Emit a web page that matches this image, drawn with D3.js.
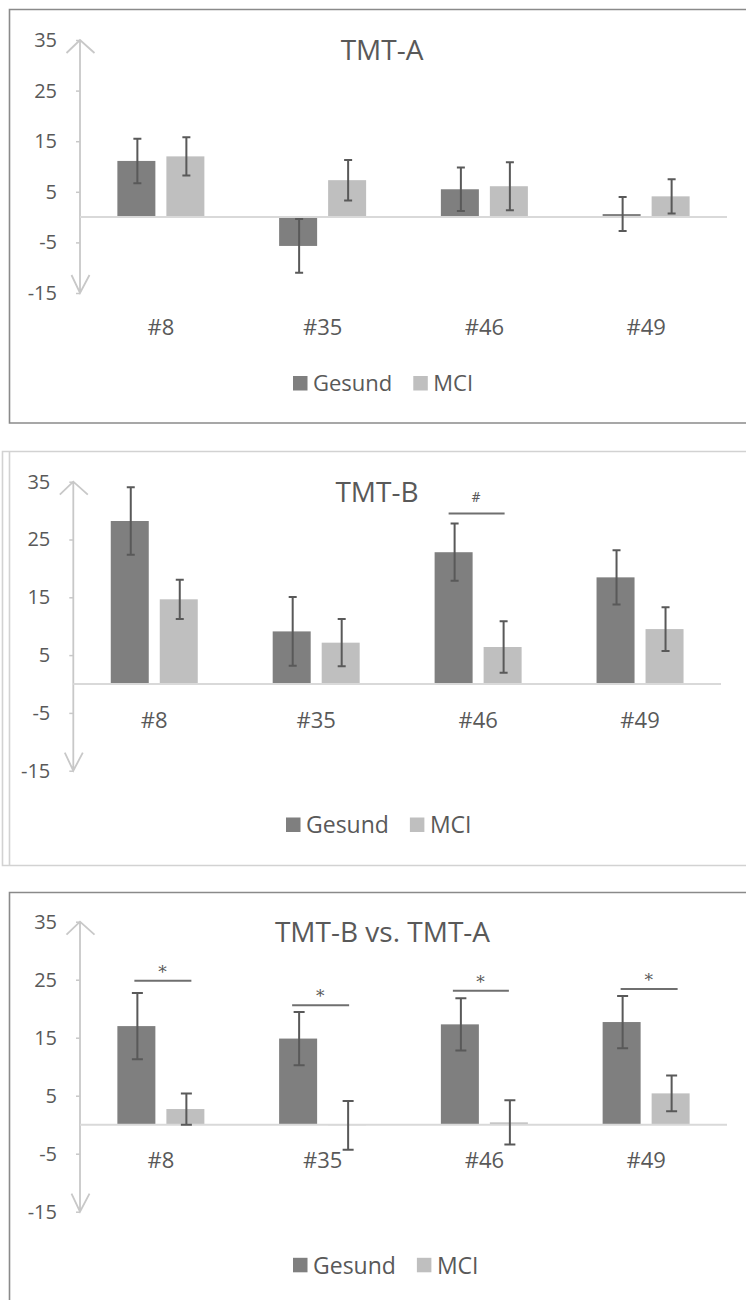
<!DOCTYPE html>
<html>
<head>
<meta charset="utf-8">
<script src="https://cdn.jsdelivr.net/npm/d3@7"></script>
<style>
  html, body { margin: 0; padding: 0; background: #fff; }
  svg { display: block; }
  text { font-family: "Open Sans", "Noto Sans", sans-serif; fill: #595959; }
</style>
</head>
<body>
<svg id="chart" width="746" height="1300"></svg>
<script>
// Categories, groups and axis ticks shared by the three panels
const categories = ["#8", "#35", "#46", "#49"];
const groups = ["Gesund", "MCI"];
const tickValues = [35, 25, 15, 5, -5, -15];

// TMT-A: group means and error ranges
const tmtAGesund = [11.1, -5.7, 5.5, 0.6];
const tmtAGesundErr = [4.4, 5.3, 4.3, 3.35];
const tmtAMci = [12.0, 7.3, 6.1, 4.1];
const tmtAMciErr = [3.8, 4.0, 4.75, 3.4];

// TMT-B
const tmtBGesund = [28.2, 9.1, 22.8, 18.45];
const tmtBGesundErr = [5.85, 5.95, 4.95, 4.7];
const tmtBMci = [14.65, 7.15, 6.4, 9.5];
const tmtBMciErr = [3.4, 4.1, 4.45, 3.8];

// TMT-B vs. TMT-A
const diffGesund = [17.0, 14.85, 17.3, 17.7];
const diffGesundErr = [5.7, 4.6, 4.5, 4.5];
const diffMci = [2.7, -0.1, 0.4, 5.4];
const diffMciErr = [2.7, 4.2, 3.8, 3.1];

// Significance brackets: category, bracket level, symbol
const tmtBSigCats = ["#46"];
const tmtBSigLevels = [29.5];
const tmtBSigSymbols = ["#"];
const diffSigCats = ["#8", "#35", "#46", "#49"];
const diffSigLevels = [24.8, 20.6, 23.1, 23.4];
const diffSigSymbols = ["*", "*", "*", "*"];

const colors = { Gesund: "#7f7f7f", MCI: "#bfbfbf" };
const svg = d3.select("#chart");

// Panel frames
svg.append("path")
  .attr("d", "M746,9.5 H9.5 V423 H746")
  .attr("fill", "none").attr("stroke", "#8a8a8a").attr("stroke-width", 1.6);
svg.append("path")
  .attr("d", "M746,451.5 H2.5 V865.5 H746 M9.5,451.5 V865.5")
  .attr("fill", "none").attr("stroke", "#d2d2d2").attr("stroke-width", 1.6);
svg.append("path")
  .attr("d", "M746,892.5 H9.5 V1300")
  .attr("fill", "none").attr("stroke", "#8a8a8a").attr("stroke-width", 1.6);

function drawPanel(cfg) {
  const g = svg.append("g");
  const y = d3.scaleLinear().domain([-15, 35]).range([cfg.yBottom, cfg.yTop]);
  const x0 = d3.scaleBand().domain(categories).range([cfg.left, cfg.right]).padding(0);
  const bw = x0.bandwidth();
  const groupW = 87;
  const x1 = d3.scaleBand().domain(groups)
    .range([(bw - groupW) / 2, (bw + groupW) / 2])
    .paddingInner(2 - groupW / 49).paddingOuter(0);

  // y axis ticks and labels
  const axis = g.append("g")
    .attr("transform", `translate(${cfg.left},0)`)
    .call(d3.axisLeft(y).tickValues(tickValues).tickSize(4).tickPadding(19).tickFormat(d => String(d)));
  axis.select(".domain").remove();
  axis.selectAll(".tick line").attr("stroke", "#c8c8c8").attr("stroke-width", 1.5);
  axis.selectAll(".tick text")
    .style("font-family", '"Open Sans", sans-serif')
    .style("font-size", "20px").attr("fill", "#595959");

  // vertical axis with open arrowheads at both ends
  const ax = cfg.left, yt = y(35), yb = y(-15);
  g.append("path")
    .attr("d", `M${ax},${yt} V${yb} M${ax - 13.5},${yt + 13} L${ax},${yt} L${ax + 14.5},${yt + 13}` +
               ` M${ax - 8.5},${yb - 18} L${ax},${yb} L${ax + 9.5},${yb - 18}`)
    .attr("fill", "none").attr("stroke", "#c8c8c8").attr("stroke-width", 1.8);

  // bars
  const rows = [];
  categories.forEach((c, i) => {
    rows.push({ cat: c, grp: "Gesund", v: cfg.gesund[i], e: cfg.gesundErr[i] });
    rows.push({ cat: c, grp: "MCI", v: cfg.mci[i], e: cfg.mciErr[i] });
  });
  g.selectAll("rect.bar").data(rows).enter().append("rect")
    .attr("class", "bar")
    .attr("x", d => x0(d.cat) + x1(d.grp))
    .attr("width", x1.bandwidth())
    .attr("y", d => Math.min(y(d.v), y(0)))
    .attr("height", d => Math.abs(y(d.v) - y(0)))
    .attr("fill", d => colors[d.grp]);

  // zero line
  g.append("line")
    .attr("x1", cfg.left).attr("x2", cfg.right)
    .attr("y1", y(0)).attr("y2", y(0))
    .attr("stroke", "#d9d9d9").attr("stroke-width", 2);

  // error bars
  const cap = cfg.cap;
  const eb = g.selectAll("g.err").data(rows).enter().append("g").attr("class", "err");
  eb.append("path")
    .attr("d", d => {
      const cx = x0(d.cat) + x1(d.grp) + x1.bandwidth() / 2 + 1;
      const t = y(d.v + d.e), b = y(d.v - d.e);
      return `M${cx},${t} V${b} M${cx - cap / 2},${t} H${cx + cap / 2} M${cx - cap / 2},${b} H${cx + cap / 2}`;
    })
    .attr("fill", "none").attr("stroke", "#595959").attr("stroke-width", 2);

  // category labels
  g.selectAll("text.cat").data(categories).enter().append("text")
    .attr("class", "cat")
    .attr("x", d => x0(d) + bw / 2)
    .attr("y", cfg.catY(y))
    .attr("text-anchor", "middle")
    .style("font-size", "22px")
    .text(d => d);

  // significance brackets
  cfg.sigCats.forEach((c, i) => {
    const gx = x0(c) + x1("Gesund") + x1.bandwidth() / 2;
    const mx = x0(c) + x1("MCI") + x1.bandwidth() / 2;
    const off = cfg.sigOffsets[i];
    const x1p = gx + off[0], x2p = mx + off[1];
    const ly = y(cfg.sigLevels[i]);
    g.append("line")
      .attr("x1", x1p).attr("x2", x2p).attr("y1", ly).attr("y2", ly)
      .attr("stroke", "#6f6f6f").attr("stroke-width", 2);
    g.append("text")
      .attr("x", (x1p + x2p) / 2 - 0.5)
      .attr("y", ly - cfg.sigDy)
      .attr("text-anchor", "middle")
      .style("font-family", '"DejaVu Serif", serif')
      .style("font-size", cfg.sigSize + "px")
      .attr("fill", "#8c8c8c")
      .text(cfg.sigSymbols[i]);
  });

  // title
  g.append("text")
    .attr("x", cfg.titleX).attr("y", cfg.titleY)
    .attr("text-anchor", "middle")
    .style("font-size", "28px")
    .text(cfg.title);

  // legend
  const lg = g.append("g").attr("transform", `translate(${cfg.legendX},${cfg.legendY})`);
  let lx = 0;
  groups.forEach(name => {
    lg.append("rect").attr("x", lx).attr("y", -7.5).attr("width", 14.5).attr("height", 14.5)
      .attr("fill", colors[name]);
    const t = lg.append("text").attr("x", lx + 20).attr("y", 0).attr("dy", "0.36em")
      .style("font-size", cfg.legendSize + "px").text(name);
    lx += 20 + t.node().getComputedTextLength() + 21;
  });
}

drawPanel({
  title: "TMT-A", titleX: 382, titleY: 60,
  left: 80, right: 727, yTop: 40, yBottom: 293, cap: 8,
  gesund: tmtAGesund, gesundErr: tmtAGesundErr, mci: tmtAMci, mciErr: tmtAMciErr,
  catY: y => y(-15) + 41.5,
  sigCats: [], sigLevels: [], sigSymbols: [], sigOffsets: [], sigDy: 0, sigSize: 14,
  legendX: 293, legendY: 383.5, legendSize: 22
});

drawPanel({
  title: "TMT-B", titleX: 377, titleY: 501.5,
  left: 73.3, right: 721, yTop: 481.7, yBottom: 770.7, cap: 8,
  gesund: tmtBGesund, gesundErr: tmtBGesundErr, mci: tmtBMci, mciErr: tmtBMciErr,
  catY: y => y(0) + 43.5,
  sigCats: tmtBSigCats, sigLevels: tmtBSigLevels, sigSymbols: tmtBSigSymbols,
  sigOffsets: [[-5, 2]], sigDy: 11, sigSize: 12,
  legendX: 286, legendY: 825, legendSize: 23
});

drawPanel({
  title: "TMT-B vs. TMT-A", titleX: 382.5, titleY: 941.7,
  left: 80, right: 727, yTop: 921.7, yBottom: 1211.7, cap: 11,
  gesund: diffGesund, gesundErr: diffGesundErr, mci: diffMci, mciErr: diffMciErr,
  catY: y => y(0) + 43,
  sigCats: diffSigCats, sigLevels: diffSigLevels, sigSymbols: diffSigSymbols,
  sigOffsets: [[-2, 6], [-6, 2], [-7, 0], [-1, 7]], sigDy: 3, sigSize: 17,
  legendX: 293, legendY: 1265.3, legendSize: 23
});
</script>
</body>
</html>
